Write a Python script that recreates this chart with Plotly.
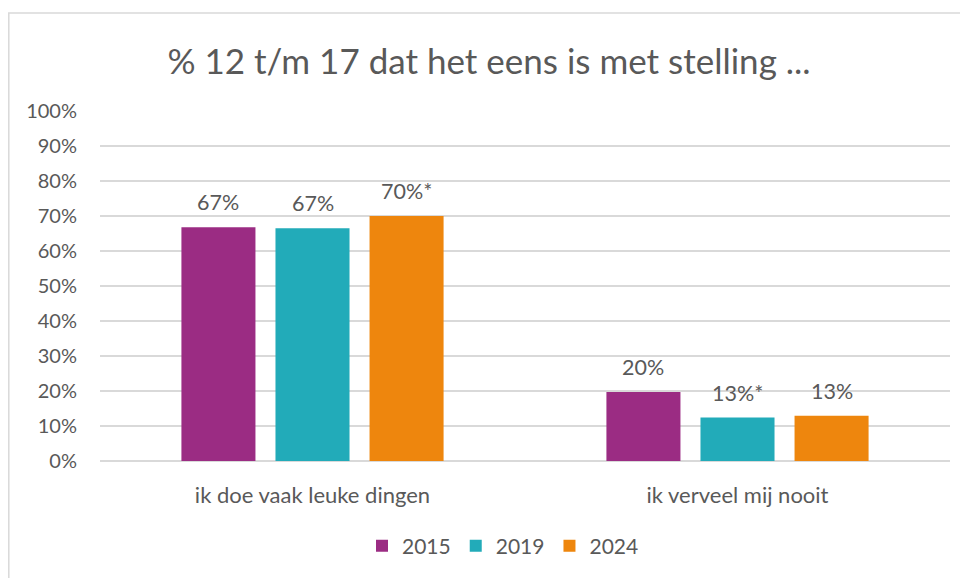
import plotly.graph_objects as go

categories = ["ik doe vaak leuke dingen", "ik verveel mij nooit"]
years = ["2015", "2019", "2024"]
values_2015 = [66.8, 19.7]
values_2019 = [66.5, 12.4]
values_2024 = [70.0, 12.9]
labels_2015 = ["67%", "20%"]
labels_2019 = ["67%", "13%*"]
labels_2024 = ["70%*", "13%"]
colors = ["#9B2C83", "#22ABB9", "#EE860D"]
tick_vals = [0, 10, 20, 30, 40, 50, 60, 70, 80, 90, 100]
tick_text = ["0%", "10%", "20%", "30%", "40%", "50%", "60%", "70%", "80%", "90%", "100%"]

FONT = "Lato"
TXT = "#595959"
OFF = 8   # page body margin
DY = 1    # vertical correction

W, H = 968 - OFF, 578 - OFF
px0, px1, py0, py1 = 100 - OFF, 950 - OFF, 110 - OFF + DY, 464 - OFF + DY
L, R, T, B = px0, W - px1, py0, H - py1
pw, ph = px1 - px0, py1 - py0

BARGAP = 0.336
GROUPGAP = 0.213
cat_w = pw / len(categories)
slot = cat_w * (1 - BARGAP) / len(years)

fig = go.Figure()
annotations = []
for i, (name, vals, labs, col) in enumerate(zip(years, [values_2015, values_2019, values_2024],
                                               [labels_2015, labels_2019, labels_2024], colors)):
    fig.add_trace(go.Bar(
        x=categories, y=vals, name=name, marker=dict(color=col, line=dict(width=0)),
    ))
    for c, v, t in zip(categories, vals, labs):
        annotations.append(dict(x=c, y=v, text=t, showarrow=False, xref="x", yref="y",
                                xanchor="center", yanchor="bottom", yshift=10,
                                xshift=(i - 1) * slot,
                                font=dict(family=FONT, size=21.5, color=TXT)))

fig.update_layout(
    width=W, height=H,
    margin=dict(l=L, r=R, t=T, b=B),
    paper_bgcolor="white", plot_bgcolor="white",
    barmode="group", bargap=BARGAP, bargroupgap=GROUPGAP,
    title=dict(text="% 12 t/m 17 dat het eens is met stelling ...",
               x=(489 - OFF) / W, xanchor="center", y=1 - (62 - OFF) / H, yanchor="middle",
               font=dict(family=FONT, size=35, color=TXT)),
    font=dict(family=FONT, color=TXT),
    showlegend=True,
    legend=dict(orientation="h", x=(503 - OFF - L) / pw, xanchor="center",
                y=-(551 - OFF - py1) / ph, yanchor="middle",
                font=dict(family=FONT, size=21, color=TXT),
                itemwidth=30, traceorder="normal"),
    xaxis=dict(showline=False, showgrid=False, ticks="", ticklabelstandoff=19,
               tickfont=dict(family=FONT, size=22, color=TXT)),
    yaxis=dict(range=[0, 100], tickvals=tick_vals, ticktext=tick_text,
               showgrid=True, gridcolor="#D9D9D9", gridwidth=1.5,
               zeroline=True, zerolinecolor="#D9D9D9", zerolinewidth=1.5,
               showline=False, ticks="", ticklabelstandoff=22,
               tickfont=dict(family=FONT, size=20, color=TXT)),
    annotations=annotations,
)

fig.add_shape(type="rect", xref="paper", yref="paper",
              x0=(0.8 - L) / pw, x1=(990 - L) / pw,
              y0=(py1 - 600) / ph, y1=(py1 - (12 - OFF)) / ph,
              line=dict(color="#D9D9D9", width=1.5), fillcolor="rgba(0,0,0,0)",
              layer="below")

fig.write_html("out.html")
